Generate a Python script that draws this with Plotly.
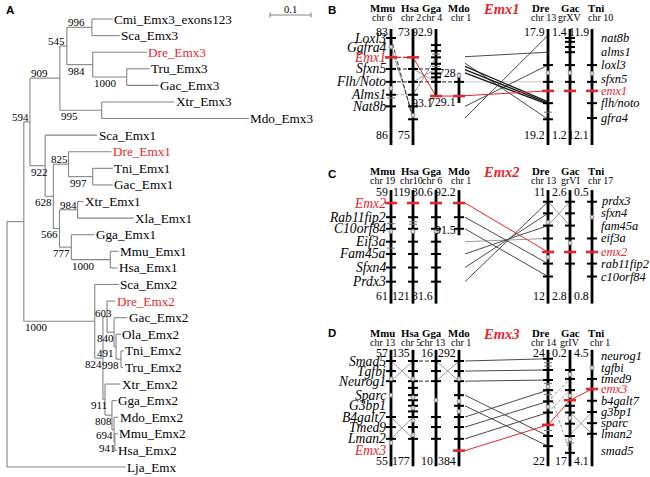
import plotly.graph_objects as go

# ======================= DATA =======================
# ---- Panel A: neighbour-joining tree (branch lengths in substitutions/site, bootstrap labels) ----
EMX3_CLADE = ("(((Cmi_Emx3_exons123:0.051,Sca_Emx3:0.068)996:0.061,(Dre_Emx3:0.132,"
              "(Tru_Emx3:0.056,Gac_Emx3:0.078)1000:0.083)984:0.063)545:0.017,"
              "(Xtr_Emx3:0.178,Mdo_Emx3:0.359)995:0.102)909")
EMX1_CLADE = ("(Sca_Emx1:0.127,((Dre_Emx1:0.105,(Tni_Emx1:0.049,Gac_Emx1:0.049)997:0.059)825:0.037,"
              "((Xtr_Emx1:0.015,Xla_Emx1:0.137)984:0.044,(Gga_Emx1:0.056,"
              "(Mmu_Emx1:0.020,Hsa_Emx1:0.017)1000:0.095)777:0.029)566:0.015)628:0.020)922")
EMX2_CLADE = ("(Sca_Emx2:0.059,((Dre_Emx2:0.020,(Gac_Emx2:0.032,(Ola_Emx2:0.012,"
              "(Tni_Emx2:0.007,Tru_Emx2:0.005)998:0.012)491:0.005)840:0.017)603:0.010,"
              "(Xtr_Emx2:0.037,(Gga_Emx2:0.012,(Mdo_Emx2:0.010,(Mmu_Emx2:0.007,Hsa_Emx2:0.005)941:0.002)"
              "694:0.005)808:0.017)911:0.005)824:0.020)1000")
TREE_NEWICK = ("(((" + EMX3_CLADE + ":0.073," + EMX1_CLADE + ":0.037)594:0.015,"
               + EMX2_CLADE + ":0.173):0.041,Lja_Emx:0.290);")
RED_LEAVES = ["Dre_Emx3", "Dre_Emx1", "Dre_Emx2"]
SCALE_BAR_LEN = 0.1

# ---- Panels B-D: synteny maps ----
SPECIES = ["Mmu", "Hsa", "Gga", "Mdo", "Dre", "Gac", "Tni"]

B_TITLE = "Emx1"
B_CHR = ["chr 6", "chr 2", "chr 4", "chr 1", "chr 13", "grXV", "chr 10"]
B_START = ["83", "73", "92.9", "728", "17.9", "1.4", "11.9"]
B_END = ["86", "75", "93.1", "729.1", "19.2", "1.2", "12.1"]
B_LEFT_GENES = ["Loxl3", "Ggfra4", "Emx1", "Sfxn5", "Flh/Noto", "Alms1", "Nat8b"]
B_LEFT_ROWS = [0, 0.7, 1.5, 2.4, 3.4, 4.4, 5.3]
B_RIGHT_GENES = ["nat8b", "alms1", "loxl3", "sfxn5", "emx1", "flh/noto", "gfra4"]
B_RIGHT_ROWS = [0, 1.1, 2.1, 3.15, 4.1, 5.05, 6.2]
B_TICKS = {"Mmu": [0, 2.4, 3.4, 4.4, 5.3], "Hsa": [2.4, 3.4, 4.4, 5.3, 6.3],
           "Gga": [0.55, 1.0, 1.5, 2.0, 2.4, 2.75, 3.05, 3.4], "Mdo": [3.4],
           "Dre": [2.1, 3.4, 5.05, 6.3], "Gac": [0, 0.3, 0.7, 1.1, 2.1, 3.4],
           "Tni": [2.1, 3.4, 5.05, 6.2]}
B_RED = {"Mmu": 1.5, "Hsa": 1.5, "Gga": 4.5, "Mdo": 4.5, "Dre": 4.1, "Gac": 4.1, "Tni": 4.1}
B_MINOR = {"Mmu": [4.65], "Gga": [1.25, 2.2], "Dre": [5.75]}
B_DOTS = {"Mmu": [0.7, 3.9], "Hsa": [6.0], "Mdo": [2.9], "Dre": [2.7], "Gac": [2.7], "Tni": [2.75]}
B_LINKS = [("Mmu", 0, "Hsa", 6.3, "dash"), ("Mmu", 0.7, "Hsa", 6.0, "gray"),
           ("Mmu", 1.5, "Hsa", 1.5, "reddash"), ("Mmu", 2.4, "Hsa", 2.4, "dash"),
           ("Mmu", 3.4, "Hsa", 3.4, "dash"), ("Mmu", 4.4, "Hsa", 4.4, "graydash"),
           ("Hsa", 2.4, "Gga", 2.4, "dash"), ("Hsa", 3.4, "Gga", 3.4, "dash"),
           ("Hsa", 1.5, "Gga", 4.5, "red"), ("Hsa", 2.4, "Gga", 3.4, "gray"),
           ("Hsa", 3.4, "Gga", 2.4, "gray"), ("Hsa", 4.4, "Gga", 1.5, "gray"),
           ("Gga", 3.4, "Mdo", 3.4, "dash"), ("Gga", 4.5, "Mdo", 4.5, "red"),
           ("L", 1.45, "Dre", 1.1, "dark"), ("L", 2.2, "Dre", 4.95, "thick"),
           ("L", 2.45, "Dre", 5.05, "thick"), ("L", 2.7, "Dre", 5.15, "thick"),
           ("L", 5.3, "Dre", 2.1, "dark"), ("L", 6.2, "Dre", -0.2, "dark"),
           ("L", 1.95, "Dre", 6.3, "dark"), ("Mdo", 3.4, "Dre", 3.4, "light"),
           ("Mdo", 4.5, "Dre", 4.1, "red")]

C_TITLE = "Emx2"
C_CHR = ["chr 19", "chr10", "chr 6", "chr 1", "chr 13", "grVI", "chr 17"]
C_START = ["59", "119", "30.6", "92.2", "11", "2.6", "0.5"]
C_END = ["61", "121", "31.6", "91.5", "12", "2.8", "0.8"]
C_LEFT_GENES = ["Emx2", "Rab11fip2", "C10orf84", "Eif3a", "Fam45a", "Sfxn4", "Prdx3"]
C_LEFT_ROWS = [0, 1.1, 2.0, 3.0, 3.95, 5.0, 6.1]
C_RIGHT_GENES = ["prdx3", "sfxn4", "fam45a", "eif3a", "emx2", "rab11fip2", "c10orf84"]
C_RIGHT_ROWS = [-0.15, 0.8, 1.75, 2.75, 3.8, 4.7, 5.7]
C_TICKS = {"Mmu": [1.1, 2.0, 3.0, 3.95, 5.0, 6.1], "Hsa": [1.1, 2.0, 3.0, 3.95, 5.0, 6.1],
           "Gga": [1.1, 2.0, 3.0, 3.95, 5.0, 6.1], "Mdo": [1.1, 2.0],
           "Dre": [-0.1, 0.8, 1.75, 2.75, 4.7, 5.7], "Gac": [-0.1, 0.8, 1.75, 2.75, 4.7],
           "Tni": [-0.1, 2.75, 4.7, 5.7]}
C_RED = {"Mmu": 0, "Hsa": 0, "Gga": 0, "Mdo": 0, "Dre": 3.8, "Gac": 3.8, "Tni": 3.8}
C_MINOR = {"Mmu": [1.6, 3.5], "Hsa": [1.45, 1.65]}
C_DOTS = {"Mmu": [2.2], "Hsa": [2.2], "Gga": [2.2], "Dre": [1.5, 4.2], "Gac": [3.1], "Tni": [1.1]}
C_LINKS = [("L", 0, "Dre", 3.8, "red"), ("L", 1.1, "Dre", 4.7, "dark"),
           ("L", 2.0, "Dre", 5.7, "dark"), ("L", 3.0, "Dre", 2.75, "gray"),
           ("L", 3.95, "Dre", 1.75, "dark"), ("L", 5.0, "Dre", 0.8, "dark"),
           ("L", 6.1, "Dre", -0.1, "dark"), ("Dre", -0.1, "Gac", 1.75, "gray"),
           ("Dre", 1.75, "Gac", -0.1, "gray")]

D_TITLE = "Emx3"
D_CHR = ["chr 13", "chr 5", "chr 13", "chr 1", "chr 14", "grIV", "chr 1"]
D_START = ["57", "135", "16", "292", "24", "0.2", "4.5"]
D_END = ["55", "177", "10", "384", "22", "17", "4.1"]
D_LEFT_GENES = ["Smad5", "Tgfbi", "Neurog1", "Sparc", "G3bp1", "B4galt7", "Tmed9", "Lman2", "Emx3"]
D_LEFT_ROWS = [0, 0.9, 1.8, 3.05, 4.0, 5.0, 5.9, 6.95, 8.0]
D_RIGHT_GENES = ["neurog1", "tgfbi", "tmed9", "emx3", "b4galt7", "g3bp1", "sparc", "lman2", "smad5"]
D_RIGHT_ROWS = [-0.45, 0.6, 1.6, 2.5, 3.55, 4.55, 5.55, 6.5, 8.0]
D_TICKS = {"Mmu": [0, 0.9, 1.8, 5.0, 5.9, 6.95],
           "Hsa": [0, 0.9, 1.8, 2.4, 3.05, 3.5, 4.0, 4.5, 5.0, 5.9, 6.95],
           "Gga": [0, 0.9, 1.8, 5.0, 5.9, 6.95],
           "Mdo": [0, 0.9, 1.8, 3.05, 4.0, 5.0, 5.9, 6.95],
           "Dre": [-0.2, 0.8, 1.7, 2.6, 3.6, 4.6, 6.7, 7.6],
           "Gac": [0.8, 1.6, 2.6, 4.0, 4.6, 5.6, 6.7, 8.2],
           "Tni": [1.6, 3.55, 4.55, 5.55, 6.5]}
D_RED = {"Mdo": 8.0, "Dre": 5.7, "Gac": 3.5, "Tni": 2.5}
D_MINOR = {"Dre": [0.15, 0.45, 2.0, 3.0, 6.2], "Gac": [7.3]}
D_DOTS = {"Mmu": [1.6, 3.05, 7.3], "Hsa": [1.6, 3.25, 4.2, 5.3, 6.6], "Gga": [3.5],
          "Mdo": [1.6, 3.6, 4.5], "Dre": [2.3, 4.1], "Gac": [1.2, 3.1, 5.1, 7.0], "Tni": [0.6]}
D_LINKS = [("Mmu", 0, "Hsa", 1.8, "gray"), ("Mmu", 1.8, "Hsa", 0, "gray"),
           ("Mmu", 5.0, "Hsa", 6.95, "gray"), ("Mmu", 6.95, "Hsa", 5.0, "gray"),
           ("Hsa", 0, "Gga", 0, "dash"), ("Hsa", 1.8, "Gga", 1.8, "dash"),
           ("Gga", 0, "Mdo", 1.8, "gray"), ("Gga", 1.8, "Mdo", 0, "gray"),
           ("L", 0, "Dre", -0.2, "dark"), ("L", 0.9, "Dre", 0.8, "dark"),
           ("L", 1.8, "Dre", 1.7, "dark"), ("L", 3.05, "Dre", 6.7, "dark"),
           ("L", 4.0, "Dre", 7.6, "dark"), ("L", 5.0, "Dre", 2.6, "dark"),
           ("L", 5.9, "Dre", 3.6, "dark"), ("L", 6.95, "Dre", 4.6, "dark"),
           ("L", 8.0, "Dre", 5.7, "red"), ("Dre", 2.3, "Gac", 8.2, "graydash"),
           ("Dre", 3.6, "Gac", 1.6, "graydash"), ("Dre", 4.6, "Gac", 2.6, "graydash"),
           ("Dre", 5.7, "Gac", 3.5, "red"), ("Gac", 3.5, "Tni", 2.5, "red"),
           ("Gac", 4.6, "Tni", 6.5, "gray"), ("Gac", 6.6, "Tni", 4.55, "gray")]

# ======================= STYLE / LAYOUT =======================
RED = "#e5262d"
SERIF = "Liberation Serif"
SANS = "Liberation Sans"
W, H = 650, 477

TREE_X0, TREE_PX_PER_UNIT = 7, 410
TREE_Y_FIRST, TREE_Y_LAST = 19, 467
LEAF_FONT, BOOT_FONT = 13.2, 11
GENE_FONT_L, GENE_FONT_R, NUM_FONT = 13.6, 12.4, 11.8
SP_FONT, CHR_FONT = 10.8, 10
# bootstrap label placement keyed by (first leaf, last leaf): (anchor, dx, dy)
BOOT_PLACE = {
    ("Cmi_Emx3_exons123", "Hsa_Emx1"): ("R", 0, -5), ("Cmi_Emx3_exons123", "Mdo_Emx3"): ("L", 0, -5),
    ("Cmi_Emx3_exons123", "Gac_Emx3"): ("R", -1, -5), ("Cmi_Emx3_exons123", "Sca_Emx3"): ("L", 0, -5),
    ("Dre_Emx3", "Gac_Emx3"): ("L", 0, 6), ("Tru_Emx3", "Gac_Emx3"): ("L", 0, 6),
    ("Xtr_Emx3", "Mdo_Emx3"): ("L", 0, 6), ("Sca_Emx1", "Hsa_Emx1"): ("L", 0, 6),
    ("Dre_Emx1", "Hsa_Emx1"): ("R", 0, 6), ("Dre_Emx1", "Gac_Emx1"): ("R", 0, -5),
    ("Tni_Emx1", "Gac_Emx1"): ("L", 0, 6), ("Xtr_Emx1", "Hsa_Emx1"): ("R", 0, 6),
    ("Xtr_Emx1", "Xla_Emx1"): ("L", 0, -5), ("Gga_Emx1", "Hsa_Emx1"): ("R", 0, 6),
    ("Mmu_Emx1", "Hsa_Emx1"): ("L", 0, 6), ("Sca_Emx2", "Hsa_Emx2"): ("L", 0, 6),
    ("Dre_Emx2", "Tru_Emx2"): ("R", 6, -4), ("Gac_Emx2", "Tru_Emx2"): ("R", 1, 6),
    ("Ola_Emx2", "Tru_Emx2"): ("R", -1, 6), ("Dre_Emx2", "Hsa_Emx2"): ("R", 0, 6),
    ("Tni_Emx2", "Tru_Emx2"): ("R", -1, 6), ("Xtr_Emx2", "Hsa_Emx2"): ("R", 3, 5),
    ("Gga_Emx2", "Hsa_Emx2"): ("R", 1, 6), ("Mdo_Emx2", "Hsa_Emx2"): ("R", 0, 5),
    ("Mmu_Emx2", "Hsa_Emx2"): ("R", 2, 6),
}

BAR_X = dict(zip(SPECIES, [391, 413, 436, 459, 548, 570, 592]))
FREE_X = 465
SP_X = [382, 410, 431.5, 459, 540, 570, 596]
CHR_X = [382, 411, 432, 461, 543, 570, 600]

STYLES = {
    "branch": dict(color="#858585", width=1.1),
    "light": dict(color="#c4c4c4", width=1),
    "gray": dict(color="#8f8f8f", width=0.9),
    "graydash": dict(color="#9a9a9a", width=1, dash="3px,2px"),
    "dash": dict(color="#2a2a2a", width=1, dash="4px,2px"),
    "dark": dict(color="#4a4a4a", width=1),
    "thick": dict(color="#1a1a1a", width=1.3),
    "red": dict(color=RED, width=1),
    "reddash": dict(color=RED, width=1.2, dash="4px,2px"),
    "bar": dict(color="#000000", width=2.8),
    "tick": dict(color="#000000", width=2),
    "minor": dict(color="#777777", width=1),
    "redtick": dict(color=RED, width=2.6),
}
ORDER = ["light", "gray", "graydash", "dash", "dark", "thick", "red", "reddash",
         "branch", "bar", "minor", "tick", "redtick"]

segs = {}
annots = []
dots_x, dots_y = [], []


def seg(style, x0, y0, x1, y1):
    xs, ys = segs.setdefault(style, ([], []))
    xs += [x0, x1, None]
    ys += [y0, y1, None]


def txt(x, y, text, size, color="black", xanchor="center", family=SERIF):
    annots.append(dict(x=x, y=y, text=text, showarrow=False, xanchor=xanchor,
                       yanchor="middle", font=dict(family=family, size=size, color=color),
                       borderpad=0))


# ======================= PANEL A: tree =======================
def parse_newick(s):
    pos = [0]

    def node():
        children = []
        if s[pos[0]] == "(":
            pos[0] += 1
            children.append(node())
            while s[pos[0]] == ",":
                pos[0] += 1
                children.append(node())
            pos[0] += 1  # ')'
        start = pos[0]
        while s[pos[0]] not in ":,);":
            pos[0] += 1
        name = s[start:pos[0]]
        length = 0.0
        if s[pos[0]] == ":":
            pos[0] += 1
            start = pos[0]
            while s[pos[0]] not in ",);":
                pos[0] += 1
            length = float(s[start:pos[0]])
        return {"name": name, "len": length, "children": children}

    return node()


tree = parse_newick(TREE_NEWICK)
leaves = []


def place(nd, depth):
    nd["depth"] = depth
    if not nd["children"]:
        nd["idx"] = len(leaves)
        leaves.append(nd)
        nd["first"] = nd["last"] = nd["name"]
    else:
        for c in nd["children"]:
            place(c, depth + c["len"])
        nd["idx"] = (nd["children"][0]["idx"] + nd["children"][-1]["idx"]) / 2
        nd["first"] = nd["children"][0]["first"]
        nd["last"] = nd["children"][-1]["last"]


place(tree, 0.0)
step = (TREE_Y_LAST - TREE_Y_FIRST) / (len(leaves) - 1)


def px(nd):
    return TREE_X0 + nd["depth"] * TREE_PX_PER_UNIT, TREE_Y_FIRST + nd["idx"] * step


def draw_tree(nd):
    x, y = px(nd)
    if nd["children"]:
        ys = [px(c)[1] for c in nd["children"]]
        seg("branch", x, min(ys), x, max(ys))
        for c in nd["children"]:
            cx, cy = px(c)
            seg("branch", x, cy, cx, cy)
            if c["children"] and c["name"]:
                anc, dx, dy = BOOT_PLACE.get((c["first"], c["last"]), ("L", 0, 6))
                if anc == "L":
                    txt(x + dx, cy + dy, c["name"], BOOT_FONT, xanchor="left")
                else:
                    txt(cx + dx, cy + dy, c["name"], BOOT_FONT, xanchor="right")
            draw_tree(c)
    else:
        col = RED if nd["name"] in RED_LEAVES else "black"
        txt(x + 0.5, y, nd["name"], LEAF_FONT, color=col, xanchor="left")


draw_tree(tree)

# scale bar
sb_x0, sb_y = 270, 15
sb_x1 = sb_x0 + SCALE_BAR_LEN * TREE_PX_PER_UNIT
seg("branch", sb_x0, sb_y, sb_x1, sb_y)
seg("branch", sb_x0, sb_y - 2.5, sb_x0, sb_y + 2.5)
seg("branch", sb_x1, sb_y - 2.5, sb_x1, sb_y + 2.5)
txt((sb_x0 + sb_x1) / 2, sb_y - 6, str(SCALE_BAR_LEN), 10.5)
txt(5, 9.5, "<b>A</b>", 11.5, xanchor="left", family=SANS)

# ======================= PANELS B-D: synteny =======================
PANELS = [
    dict(letter="B", title=B_TITLE, chr=B_CHR, start=B_START, end=B_END,
         lg=B_LEFT_GENES, lr=B_LEFT_ROWS, rg=B_RIGHT_GENES, rr=B_RIGHT_ROWS,
         ticks=B_TICKS, red=B_RED, minor=B_MINOR, dots=B_DOTS, links=B_LINKS,
         y0=38, sp=12.9, head_y=(8, 17.5), letter_y=9.5,
         span={"default": (-0.7, 8.3), "Gga": (-0.7, 4.57), "Mdo": (2.7, 5.04)},
         lab={"default": (-0.45, 7.55), "Gga": (-0.45, 5.05), "Mdo": (2.71, 4.96)},
         red_left=["Emx1"], red_right=["emx1"]),
    dict(letter="C", title=C_TITLE, chr=C_CHR, start=C_START, end=C_END,
         lg=C_LEFT_GENES, lr=C_LEFT_ROWS, rg=C_RIGHT_GENES, rr=C_RIGHT_ROWS,
         ticks=C_TICKS, red=C_RED, minor=C_MINOR, dots=C_DOTS, links=C_LINKS,
         y0=203, sp=12.9, head_y=(171, 180), letter_y=173.5,
         span={"default": (-1.0, 7.8), "Mdo": (-1.0, 2.5)},
         lab={"default": (-0.85, 7.2), "Mdo": (-0.85, 2.1)},
         red_left=["Emx2"], red_right=["emx2"]),
    dict(letter="D", title=D_TITLE, chr=D_CHR, start=D_START, end=D_END,
         lg=D_LEFT_GENES, lr=D_LEFT_ROWS, rg=D_RIGHT_GENES, rr=D_RIGHT_ROWS,
         ticks=D_TICKS, red=D_RED, minor=D_MINOR, dots=D_DOTS, links=D_LINKS,
         y0=361, sp=11.2, head_y=(332.5, 342.5), letter_y=332.5,
         span={"default": (-1.0, 9.4)},
         lab={"default": (-0.7, 8.95)},
         red_left=["Emx3"], red_right=["emx3"]),
]

for p in PANELS:
    Y = (lambda p: (lambda r: p["y0"] + r * p["sp"]))(p)
    txt(327, p["letter_y"], "<b>" + p["letter"] + "</b>", 11.5, xanchor="left", family=SANS)
    txt(501, p["head_y"][0] + 1, "<b><i>" + p["title"] + "</i></b>", 14.5, color=RED)
    for i, sp in enumerate(SPECIES):
        txt(SP_X[i], p["head_y"][0], "<b>" + sp + "</b>", SP_FONT)
        txt(CHR_X[i], p["head_y"][1], p["chr"][i], CHR_FONT)
    # links
    for a, ra, b, rb, st in p["links"]:
        xa = FREE_X if a == "L" else BAR_X[a]
        seg(st, xa, Y(ra), BAR_X[b], Y(rb))
    # bars and end labels
    for i, sp in enumerate(SPECIES):
        x = BAR_X[sp]
        r0, r1 = p["span"].get(sp, p["span"]["default"])
        seg("bar", x, Y(r0), x, Y(r1))
        l0, l1 = p["lab"].get(sp, p["lab"]["default"])
        txt(x - 2.5, Y(l0), p["start"][i], NUM_FONT, xanchor="right")
        txt(x - 2.5, Y(l1), p["end"][i], NUM_FONT, xanchor="right")
        for r in p["ticks"].get(sp, []):
            seg("tick", x - 5, Y(r), x + 5, Y(r))
        for r in p["minor"].get(sp, []):
            seg("minor", x - 4, Y(r), x + 4, Y(r))
        if sp in p["red"]:
            r = p["red"][sp]
            seg("redtick", x - 6, Y(r), x + 6, Y(r))
        for r in p["dots"].get(sp, []):
            dots_x.append(x)
            dots_y.append(Y(r))
    for g, r in zip(p["lg"], p["lr"]):
        txt(387, Y(r), "<i>" + g + "</i>", GENE_FONT_L,
            color=RED if g in p["red_left"] else "black", xanchor="right")
    for g, r in zip(p["rg"], p["rr"]):
        txt(599.5, Y(r), "<i>" + g + "</i>", GENE_FONT_R,
            color=RED if g in p["red_right"] else "black", xanchor="left")

# ======================= FIGURE =======================
fig = go.Figure()
for st in ORDER:
    if st in segs:
        xs, ys = segs[st]
        fig.add_trace(go.Scatter(x=xs, y=ys, mode="lines", line=STYLES[st],
                                 hoverinfo="skip", showlegend=False))
fig.add_trace(go.Scatter(x=dots_x, y=dots_y, mode="markers",
                         marker=dict(size=4, color="#d8d8d8", line=dict(color="#8a8a8a", width=0.8)),
                         hoverinfo="skip", showlegend=False))

fig.update_layout(
    width=W, height=H, margin=dict(l=0, r=0, t=0, b=0),
    paper_bgcolor="white", plot_bgcolor="white", showlegend=False,
    xaxis=dict(range=[0, W], visible=False, fixedrange=True),
    yaxis=dict(range=[H, 0], visible=False, fixedrange=True),
    annotations=annots,
)
fig.write_html("out.html", config={"displayModeBar": False},
               post_script="document.body.style.margin='0px';document.body.style.overflow='hidden';")
